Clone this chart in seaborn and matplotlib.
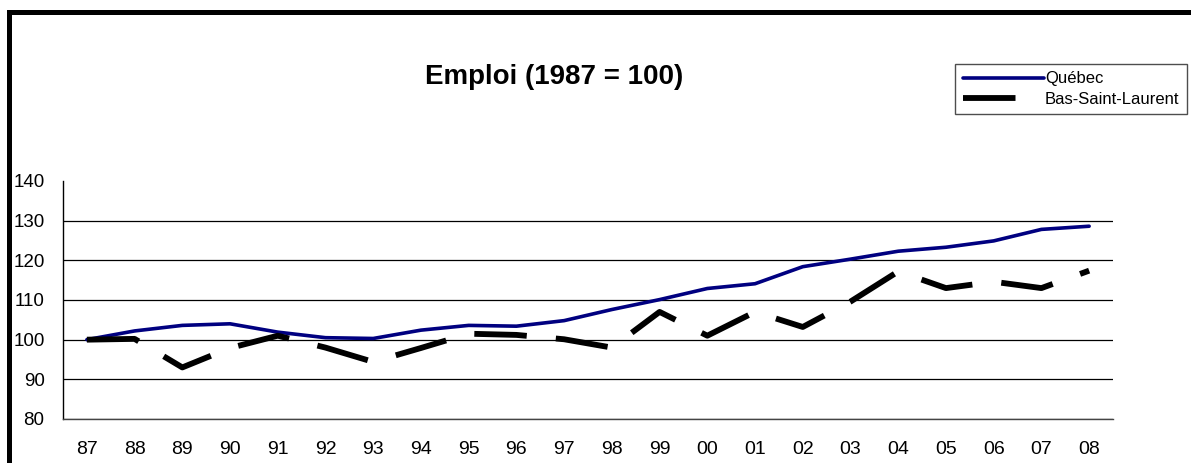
import matplotlib
matplotlib.use("Agg")
import matplotlib.pyplot as plt
import numpy as np
import pandas as pd
import seaborn as sns
from matplotlib import patches

YEARS = ["87", "88", "89", "90", "91", "92", "93", "94", "95", "96", "97",
         "98", "99", "00", "01", "02", "03", "04", "05", "06", "07", "08"]
QUEBEC = [100.0, 102.2, 103.6, 104.0, 101.9, 100.5, 100.3, 102.4, 103.6, 103.4, 104.8,
          107.6, 110.1, 112.9, 114.1, 118.4, 120.3, 122.3, 123.3, 124.9, 127.8, 128.6]
BSL = [100.0, 100.2, 93.0, 97.9, 101.0, 98.0, 94.4, 97.9, 101.5, 101.2, 100.1,
       98.0, 107.0, 101.0, 107.0, 103.2, 109.6, 117.2, 113.0, 114.6, 113.0, 117.4]
SERIES = ["Québec", "Bas-Saint-Laurent"]
COLORS = {"Québec": "#000080", "Bas-Saint-Laurent": "#000000"}

sns.set_style("white")
plt.rcParams["font.family"] = ["Liberation Sans", "DejaVu Sans"]
plt.rcParams["text.color"] = "black"
plt.rcParams["xtick.color"] = "black"
plt.rcParams["ytick.color"] = "black"

df = pd.DataFrame({"pos": np.arange(len(YEARS)), "Québec": QUEBEC, "Bas-Saint-Laurent": BSL})
long = df.melt(id_vars="pos", var_name="serie", value_name="indice")

fig = plt.figure(figsize=(11.91, 4.63), dpi=100)
ax = fig.add_axes([63 / 1191, 44 / 463, 1050 / 1191, 238 / 463])

sns.lineplot(data=long[long["serie"] == "Québec"], x="pos", y="indice",
             color=COLORS["Québec"], lw=2.6, ax=ax, label="Québec")
sns.lineplot(data=long[long["serie"] == "Bas-Saint-Laurent"], x="pos", y="indice",
             color=COLORS["Bas-Saint-Laurent"], lw=4.2, ax=ax, label="Bas-Saint-Laurent")
ax.lines[1].set_dashes((9, 5))

ax.set_xlim(-0.5, len(YEARS) - 0.5)
ax.set_ylim(80, 140)
ax.set_yticks([80, 90, 100, 110, 120, 130, 140])
ax.set_xticks(np.arange(len(YEARS)))
ax.set_xticklabels(YEARS)
ax.set_xticks(np.arange(len(YEARS) + 1) - 0.5, minor=True)
ax.tick_params(axis="x", which="major", length=0, pad=16, labelsize=14)
ax.tick_params(axis="x", which="minor", length=4.3, width=1, color="#333")
ax.tick_params(axis="y", length=4.3, width=1, color="black", labelsize=13.5, pad=9)
ax.set_xlabel("")
ax.set_ylabel("")

ax.yaxis.grid(True, color="black", lw=0.9)
ax.set_axisbelow(True)
ax.get_ygridlines()[-1].set_visible(False)
for side in ["top", "right"]:
    ax.spines[side].set_visible(False)
ax.spines["left"].set_color("black")
ax.spines["bottom"].set_color("#444")
for side in ["left", "bottom"]:
    ax.spines[side].set_linewidth(1)

ax.legend_.remove()
handles, labels = ax.get_legend_handles_labels()
leg = fig.legend(handles, labels, loc="upper left",
                 bbox_to_anchor=(955 / 1191, 1 - 64 / 463), borderaxespad=0,
                 fontsize=12, handlelength=4.9, handletextpad=0.05,
                 labelspacing=0.3, fancybox=False, frameon=True,
                 borderpad=0.45)
leg.get_frame().set_edgecolor("#222")
leg.get_frame().set_linewidth(1)

fig.text(554 / 1191, 1 - 77 / 463, "Emploi (1987 = 100)", ha="center", va="center",
         fontsize=20, fontweight="bold")

# cadre épais autour du graphique (coupé à droite et en bas)
fig.add_artist(patches.Rectangle((8.5 / 1191, -0.1), 1.2, 1 - 12.5 / 463 + 0.1,
                                 transform=fig.transFigure, fill=False,
                                 edgecolor="black", lw=3.6, clip_on=False))

fig.savefig("out.png", dpi=100)
